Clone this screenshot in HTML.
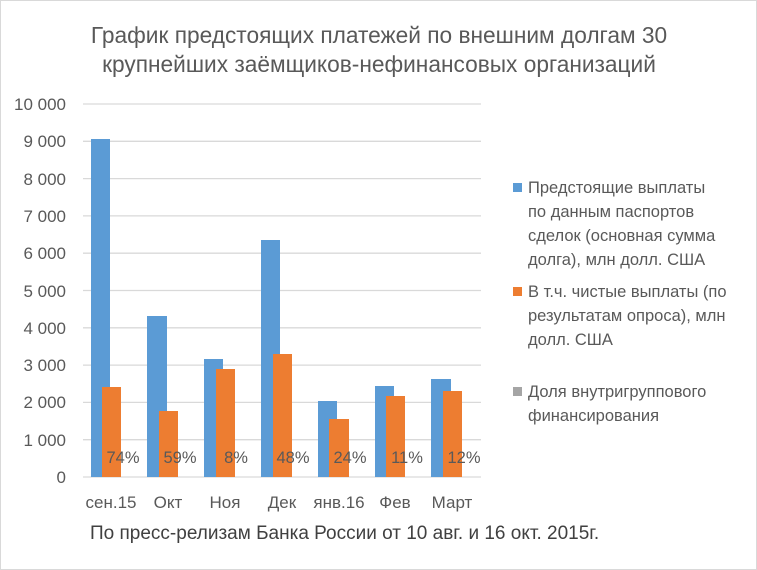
<!DOCTYPE html>
<html><head><meta charset="utf-8"><style>
body{margin:0;background:#fff}
svg{display:block;font-family:"Liberation Sans","DejaVu Sans",sans-serif}
</style></head><body>
<svg width="757" height="570" xmlns="http://www.w3.org/2000/svg">
<rect x="0.5" y="0.5" width="756" height="569" fill="#fff" stroke="#d9d9d9"/>
<text x="379" y="43" font-size="22.7" fill="#595959" text-anchor="middle">График предстоящих платежей по внешним долгам 30</text>
<text x="379" y="72" font-size="22.7" fill="#595959" text-anchor="middle">крупнейших заёмщиков-нефинансовых организаций</text>
<g stroke="#d9d9d9" stroke-width="1.3">
<line x1="83" x2="481" y1="104" y2="104"/><line x1="83" x2="481" y1="141.3" y2="141.3"/><line x1="83" x2="481" y1="178.6" y2="178.6"/><line x1="83" x2="481" y1="215.9" y2="215.9"/><line x1="83" x2="481" y1="253.2" y2="253.2"/><line x1="83" x2="481" y1="290.5" y2="290.5"/><line x1="83" x2="481" y1="327.8" y2="327.8"/><line x1="83" x2="481" y1="365.1" y2="365.1"/><line x1="83" x2="481" y1="402.4" y2="402.4"/><line x1="83" x2="481" y1="439.7" y2="439.7"/><line x1="83" x2="481" y1="477" y2="477"/>
</g>
<g font-size="17" fill="#595959" text-anchor="end">
<text x="66" y="110">10 000</text><text x="66" y="147">9 000</text><text x="66" y="185">8 000</text><text x="66" y="222">7 000</text><text x="66" y="259">6 000</text><text x="66" y="297">5 000</text><text x="66" y="334">4 000</text><text x="66" y="371">3 000</text><text x="66" y="408">2 000</text><text x="66" y="446">1 000</text><text x="66" y="483">0</text>
</g>
<g fill="#5b9bd5">
<rect x="91" y="139" width="19" height="338"/><rect x="147" y="316" width="20" height="161"/><rect x="204" y="359" width="19" height="118"/><rect x="261" y="240" width="19" height="237"/><rect x="318" y="401" width="19" height="76"/><rect x="375" y="386" width="19" height="91"/><rect x="431" y="379" width="20" height="98"/>
</g>
<g fill="#ed7d31">
<rect x="102" y="387" width="19" height="90"/><rect x="159" y="411" width="19" height="66"/><rect x="216" y="369" width="19" height="108"/><rect x="273" y="354" width="19" height="123"/><rect x="329" y="419" width="20" height="58"/><rect x="386" y="396" width="19" height="81"/><rect x="443" y="391" width="19" height="86"/>
</g>
<g font-size="16.5" fill="#595959" text-anchor="middle">
<text x="123" y="463">74%</text><text x="180" y="463">59%</text><text x="236" y="463">8%</text><text x="293" y="463">48%</text><text x="350" y="463">24%</text><text x="407" y="463">11%</text><text x="464" y="463">12%</text>
</g>
<g font-size="17" fill="#595959" text-anchor="middle">
<text x="111" y="508">сен.15</text><text x="168" y="508">Окт</text><text x="225" y="508">Ноя</text><text x="282" y="508">Дек</text><text x="339" y="508">янв.16</text><text x="395" y="508">Фев</text><text x="452" y="508">Март</text>
</g>
<g font-size="16.5" fill="#595959">
<rect x="513" y="183" width="9" height="9" fill="#5b9bd5"/>
<text x="528" y="193">Предстоящие выплаты</text><text x="528" y="217">по данным паспортов</text><text x="528" y="241">сделок (основная сумма</text><text x="528" y="265">долга), млн долл. США</text>
<rect x="513" y="287" width="9" height="9" fill="#ed7d31"/>
<text x="528" y="297">В т.ч. чистые выплаты (по</text><text x="528" y="321">результатам опроса), млн</text><text x="528" y="345">долл. США</text>
<rect x="513" y="387" width="9" height="9" fill="#a5a5a5"/>
<text x="528" y="397">Доля внутригруппового</text><text x="528" y="421">финансирования</text>
</g>
<text x="90" y="539" font-size="19" fill="#404040">По пресс-релизам Банка России от 10 авг. и 16 окт. 2015г.</text>
</svg>
</body></html>
